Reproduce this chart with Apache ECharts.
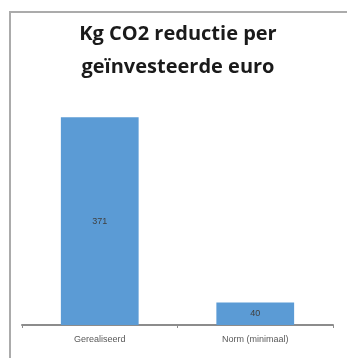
<!DOCTYPE html>
<html>
<head>
<meta charset="utf-8">
<script src="https://cdn.jsdelivr.net/npm/echarts@6/dist/echarts.min.js"></script>
<style>
html,body{margin:0;padding:0;background:#fff;overflow:hidden;}
#c{position:absolute;left:0;top:0;width:347px;height:358px;}
#frame{position:absolute;left:9px;top:11px;width:336px;height:360px;border:2px solid #ababab;pointer-events:none;}
</style>
</head>
<body>
<div id="c"></div>
<div id="frame"></div>
<script>
const titleLines = ['Kg CO2 reductie per', 'geïnvesteerde euro'];
const categories = ['Gerealiseerd', 'Norm (minimaal)'];
const values = [371, 40];

const chart = echarts.init(document.getElementById('c'), null, {renderer: 'canvas'});
chart.setOption({
  animation: false,
  backgroundColor: 'transparent',
  title: {
    text: titleLines.join('\n'),
    left: 173,
    textAlign: 'center',
    top: 13,
    textStyle: {
      fontFamily: 'Open Sans',
      fontWeight: 'bold',
      fontSize: 20,
      lineHeight: 33,
      color: '#1a1a1a'
    }
  },
  grid: {left: 22, right: 14, top: 101, bottom: 33, containLabel: false},
  xAxis: {
    type: 'category',
    data: categories,
    axisLine: {lineStyle: {color: '#8c8c8c', width: 2}},
    axisTick: {show: true, length: 3, lineStyle: {color: '#8c8c8c', width: 1}},
    axisLabel: {color: '#595959', fontSize: 9, fontFamily: 'Liberation Sans', margin: 10}
  },
  yAxis: {
    type: 'value', min: 0, max: 400, show: false,
    splitLine: {show: false}
  },
  series: [{
    type: 'bar',
    data: values,
    barWidth: '50%',
    itemStyle: {color: '#5b9bd5'},
    label: {
      show: true, position: 'inside',
      color: '#404040', fontSize: 9, fontFamily: 'Liberation Sans'
    }
  }]
});
</script>
</body>
</html>
